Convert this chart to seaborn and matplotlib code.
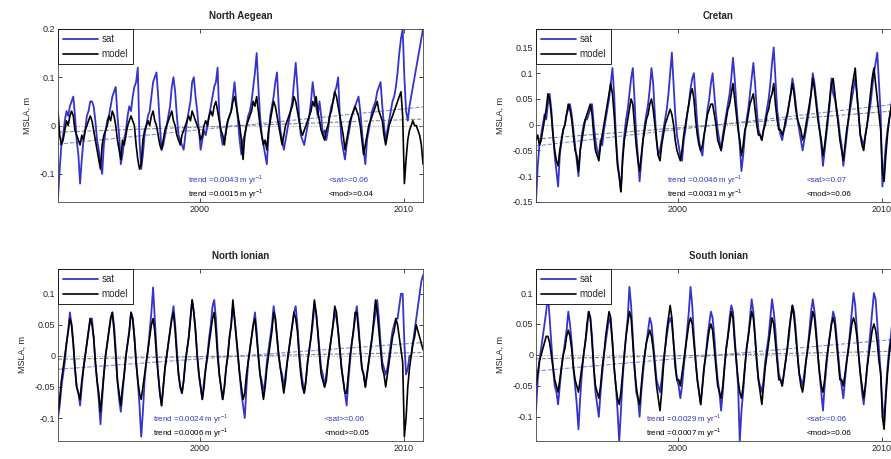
import numpy as np
import pandas as pd
import matplotlib
matplotlib.use("Agg")
import matplotlib.pyplot as plt
import seaborn as sns

# monthly sea level anomalies, cm, Jan 1993 .. Dec 2010
start_year = 1993

aegean_sat = [
    -15, -9, -4, -2, 1, 3, 2, 4, 5, 6, 2, -3,
    -6, -12, -7, -3, -1, 2, 3, 5, 5, 4, 1, -3,
    -5, -8, -10, -4, -1, 1, 2, 4, 6, 7, 8, 2,
    -2, -8, -6, -3, -1, 2, 4, 3, 6, 8, 9, 12,
    -3, -9, -6, -2, 0, 2, 3, 6, 9, 10, 11, 6,
    0, -5, -4, -2, 0, 2, 4, 8, 10, 7, 2, -2,
    -3, -4, -5, -2, 1, 3, 5, 9, 10, 6, 3, -1,
    -5, -3, -1, -2, 0, 2, 4, 6, 8, 9, 12, 2,
    -2, -4, -3, -1, 1, 2, 3, 6, 9, 5, 1, -3,
    -6, -3, -2, 0, 2, 3, 5, 8, 11, 15, 8, 2,
    -2, -4, -6, -8, -2, 2, 4, 6, 9, 11, 4, -1,
    -3, -5, -3, -1, 1, 3, 5, 9, 13, 8, 2, -2,
    -3, -4, -2, 0, 2, 5, 9, 6, 4, 2, 5, 2,
    -2, -1, -3, -1, 2, 4, 5, 7, 8, 10, 2, -3,
    -5, -7, -4, -2, 0, 2, 3, 4, 5, 6, 3, -1,
    -5, -8, -3, -1, 1, 3, 4, 5, 7, 8, 9, 4,
    0, -3, -1, 1, 3, 5, 6, 8, 11, 15, 18, 20,
    10, 3, 1, 4, 6, 8, 10, 12, 14, 16, 18, 20,
]
aegean_mod = [
    3, -2, -4, -3, -1, 1, 0, 2, 3, 2, -1, -2,
    -3, -4, -2, -3, -1, 0, 1, 2, 1, -1, -3, -5,
    -7, -9, -4, -2, -1, 0, 2, 1, 3, 2, 0, -3,
    -5, -7, -3, -4, -2, 0, 1, 2, 1, 0, -4, -7,
    -9, -8, -3, -1, 0, 1, 0, 2, 3, 1, 0, -2,
    -4, -5, -3, -1, 0, 1, 2, 3, 1, 0, -2, -3,
    -4, -2, -1, 0, 1, 2, 1, 3, 2, 1, 0, -1,
    -3, -2, 0, 1, 0, 2, 3, 2, 4, 5, 3, 1,
    -1, -2, -4, -1, 1, 2, 3, 5, 6, 4, 2, 0,
    -3, -7, -2, 0, 1, 2, 3, 5, 4, 6, 3, 0,
    -2, -4, -3, -5, -1, 1, 3, 5, 4, 2, 0, -2,
    -4, -2, 0, 1, 2, 3, 4, 6, 5, 3, 1, -1,
    -2, -1, 0, 1, 2, 3, 5, 4, 6, 3, 1, -1,
    -2, -3, -1, 0, 2, 3, 5, 7, 6, 4, 2, 0,
    -2, -5, -3, -1, 1, 2, 3, 4, 3, 2, 0, -3,
    -6, -4, -2, 0, 1, 2, 3, 4, 5, 3, 2, 1,
    -2, -4, -2, 0, 1, 2, 3, 4, 5, 6, 7, 2,
    -12, -7, -3, -1, 0, 1, 0, 0, -1, -2, -4, -8,
]

cretan_sat = [
    -15, -8, -4, -2, 0, 2, 1, 4, 6, 3, -2, -6,
    -9, -12, -6, -3, -1, 0, 2, 3, 4, 2, -1, -4,
    -7, -10, -5, -2, 0, 1, 1, 2, 3, 4, 0, -3,
    -5, -6, -3, -4, -1, 1, 3, 5, 8, 11, 6, -2,
    -7, -10, -13, -6, -2, 1, 3, 6, 9, 11, 5, -2,
    -6, -11, -7, -3, 0, 2, 4, 7, 11, 8, 2, -3,
    -6, -5, -3, -1, 1, 3, 6, 10, 14, 8, 2, -2,
    -4, -6, -7, -3, -1, 2, 4, 7, 9, 10, 5, 0,
    -3, -5, -6, -2, 0, 3, 5, 8, 10, 6, 2, -1,
    -3, -5, -2, 0, 2, 4, 6, 9, 13, 9, 4, 0,
    -4, -9, -6, -2, 1, 3, 6, 9, 12, 8, 3, -1,
    -2, -3, -1, 1, 3, 5, 8, 12, 15, 9, 3, 0,
    -2, -3, -1, 0, 2, 4, 6, 9, 7, 4, 1, -1,
    -3, -5, -3, -1, 1, 3, 6, 10, 8, 5, 2, -1,
    -4, -8, -5, -2, 1, 4, 9, 6, 5, 3, 1, -2,
    -4, -8, -5, -2, 1, 3, 5, 7, 9, 6, 2, -2,
    -3, -4, -2, 0, 2, 4, 7, 10, 12, 14, 8, 2,
    -12, -8, -4, -1, 1, 3, 6, 10, 13, 9, 4, 0,
]
cretan_mod = [
    -3, -2, -4, -3, -1, 1, 3, 6, 5, 2, -2, -5,
    -7, -8, -5, -3, -1, 0, 2, 4, 3, 1, -2, -5,
    -6, -9, -5, -3, -1, 1, 2, 3, 4, 2, -2, -5,
    -6, -7, -4, -2, 0, 2, 4, 6, 8, 6, 2, -3,
    -8, -10, -13, -7, -3, -1, 1, 3, 5, 4, 0, -4,
    -7, -9, -6, -3, -1, 1, 2, 4, 5, 3, 0, -3,
    -6, -7, -4, -2, 0, 1, 2, 3, 2, 0, -3, -5,
    -6, -7, -5, -2, 0, 2, 4, 6, 7, 5, 1, -2,
    -4, -5, -4, -2, 0, 2, 3, 4, 4, 2, 0, -3,
    -4, -5, -3, -1, 1, 3, 4, 6, 8, 5, 2, -1,
    -3, -6, -4, -1, 0, 2, 4, 5, 6, 3, 0, -2,
    -2, -3, -1, 0, 2, 3, 5, 6, 8, 4, 1, -1,
    -1, -2, -1, 1, 2, 4, 6, 8, 6, 3, 1, 0,
    -1, -3, -2, 0, 2, 4, 6, 9, 7, 4, 1, -1,
    -3, -6, -4, -1, 2, 5, 8, 9, 6, 3, 0, -3,
    -5, -7, -4, -1, 1, 4, 7, 9, 11, 6, 2, -2,
    -4, -5, -2, 0, 3, 6, 9, 11, 8, 5, 2, -1,
    -9, -11, -6, -2, 1, 3, 5, 7, 8, 5, 1, -2,
]

nionian_sat = [
    -10, -8, -5, -3, -1, 2, 4, 7, 5, 2, -2, -5,
    -6, -8, -5, -2, 0, 2, 4, 6, 6, 3, -1, -4,
    -7, -11, -7, -3, 0, 2, 4, 6, 7, 5, 1, -4,
    -7, -9, -6, -3, 0, 2, 4, 7, 6, 3, -1, -4,
    -8, -13, -9, -4, -1, 1, 4, 7, 11, 6, 1, -3,
    -6, -8, -5, -2, 0, 2, 4, 6, 8, 5, 1, -3,
    -5, -6, -4, -1, 1, 3, 6, 9, 7, 4, 0, -3,
    -5, -7, -4, -2, 0, 3, 5, 8, 9, 6, 1, -3,
    -5, -7, -5, -2, 0, 3, 5, 8, 6, 3, 0, -3,
    -6, -8, -10, -5, -1, 1, 3, 5, 7, 4, 0, -3,
    -4, -6, -4, -1, 1, 3, 5, 8, 6, 3, 0, -2,
    -3, -5, -3, -1, 1, 3, 5, 7, 8, 5, 1, -2,
    -4, -6, -4, -1, 1, 3, 5, 8, 7, 4, 1, -2,
    -3, -5, -3, -1, 1, 3, 5, 7, 6, 4, 1, -2,
    -4, -6, -8, -4, -1, 2, 4, 6, 8, 5, 1, -2,
    -3, -5, -3, -1, 1, 3, 5, 7, 9, 6, 2, -1,
    -2, -3, -2, 0, 2, 4, 5, 6, 6, 8, 10, 10,
    2, -3, -2, 0, 0, 2, 4, 6, 8, 10, 12, 13,
]
nionian_mod = [
    -9, -7, -4, -2, 0, 2, 4, 6, 5, 2, -2, -5,
    -6, -7, -4, -2, 0, 2, 4, 6, 5, 3, -1, -4,
    -6, -9, -6, -3, 0, 2, 4, 6, 7, 4, 0, -4,
    -6, -8, -5, -3, 0, 2, 4, 7, 6, 3, -1, -4,
    -6, -7, -5, -3, -1, 1, 3, 5, 6, 4, 0, -3,
    -6, -8, -5, -2, 0, 2, 4, 6, 7, 4, 0, -3,
    -5, -6, -4, -1, 1, 3, 6, 9, 7, 4, 0, -3,
    -5, -7, -5, -2, 0, 2, 4, 6, 7, 4, 0, -3,
    -5, -7, -5, -2, 0, 3, 5, 9, 6, 3, 0, -3,
    -5, -7, -6, -3, -1, 1, 3, 5, 6, 3, 0, -3,
    -5, -7, -5, -2, 0, 2, 4, 7, 6, 3, 0, -2,
    -4, -6, -4, -1, 1, 3, 5, 7, 6, 4, 0, -3,
    -5, -6, -4, -1, 1, 3, 6, 9, 7, 4, 0, -3,
    -4, -5, -4, -1, 1, 3, 5, 8, 7, 4, 1, -2,
    -4, -6, -6, -3, 0, 2, 4, 7, 7, 4, 1, -2,
    -3, -5, -3, -1, 1, 3, 6, 9, 7, 4, 1, -2,
    -3, -5, -3, -1, 1, 3, 4, 6, 5, 3, 1, -1,
    -13, -10, -5, -2, 0, 2, 3, 5, 4, 3, 2, 1,
]

sionian_sat = [
    -9, -4, -1, 1, 3, 5, 7, 10, 6, 2, -2, -5,
    -6, -8, -5, -2, 0, 2, 4, 7, 5, 2, -2, -5,
    -8, -12, -7, -3, 0, 2, 4, 7, 6, 3, -2, -6,
    -8, -10, -6, -3, 0, 2, 4, 6, 5, 2, -2, -5,
    -9, -14, -9, -4, 0, 3, 6, 11, 8, 3, -2, -6,
    -7, -10, -6, -3, 0, 2, 4, 6, 5, 2, -1, -4,
    -5, -6, -4, -1, 1, 3, 5, 6, 5, 2, -1, -4,
    -5, -7, -5, -2, 1, 4, 7, 11, 8, 3, -1, -4,
    -6, -8, -5, -2, 0, 3, 5, 7, 6, 3, -1, -4,
    -6, -9, -6, -2, 1, 3, 6, 8, 7, 3, -1, -5,
    -14, -9, -6, -2, 1, 3, 6, 9, 7, 3, -1, -4,
    -5, -6, -4, -1, 1, 3, 6, 9, 7, 4, 0, -3,
    -4, -5, -3, -1, 1, 3, 6, 8, 7, 4, 0, -3,
    -4, -5, -3, -1, 1, 4, 7, 9, 7, 4, 0, -3,
    -6, -9, -5, -2, 1, 3, 5, 7, 6, 3, 0, -3,
    -5, -7, -4, -1, 1, 4, 7, 10, 8, 4, 0, -3,
    -6, -8, -5, -2, 1, 4, 7, 10, 9, 5, 1, -3,
    -8, -11, -6, -2, 1, 3, 6, 9, 8, 4, 1, -2,
]
sionian_mod = [
    -5, -3, -1, 0, 1, 2, 3, 3, 2, 0, -2, -4,
    -5, -6, -4, -2, 0, 1, 3, 4, 3, 1, -2, -4,
    -5, -6, -4, -2, 0, 2, 5, 7, 6, 2, -2, -5,
    -6, -7, -5, -2, 0, 3, 5, 7, 6, 2, -2, -5,
    -7, -8, -6, -3, 0, 3, 5, 7, 6, 2, -2, -5,
    -7, -8, -5, -2, 0, 2, 3, 4, 3, 1, -2, -5,
    -7, -9, -6, -2, 1, 4, 6, 8, 6, 2, -2, -4,
    -4, -5, -3, -1, 1, 3, 5, 6, 5, 2, -1, -4,
    -6, -8, -5, -2, 0, 2, 4, 5, 4, 1, -2, -5,
    -6, -7, -5, -2, 1, 3, 5, 7, 6, 2, -1, -4,
    -6, -7, -5, -2, 1, 3, 5, 7, 6, 3, -1, -4,
    -6, -8, -5, -2, 0, 2, 4, 6, 5, 2, -1, -4,
    -4, -5, -3, -1, 1, 4, 6, 8, 6, 3, 0, -3,
    -5, -6, -4, -1, 1, 3, 5, 7, 6, 3, 0, -3,
    -5, -6, -4, -1, 1, 3, 5, 6, 5, 2, -1, -4,
    -4, -5, -3, -1, 1, 3, 5, 6, 5, 3, 0, -3,
    -5, -7, -5, -2, 0, 2, 4, 5, 4, 2, -1, -3,
    -10, -12, -7, -3, 0, 2, 4, 6, 5, 3, 0, -2,
]

titles = ["North Aegean", "Cretan", "North Ionian", "South Ionian"]
sat_series = [aegean_sat, cretan_sat, nionian_sat, sionian_sat]
mod_series = [aegean_mod, cretan_mod, nionian_mod, sionian_mod]
sat_trends = [0.0043, 0.0046, 0.0024, 0.0029]
mod_trends = [0.0015, 0.0031, 0.0006, 0.0007]
sat_std = [0.06, 0.07, 0.06, 0.06]
mod_std = [0.04, 0.06, 0.05, 0.06]
y_limits = [(-0.158, 0.2), (-0.15, 0.186), (-0.137, 0.14), (-0.139, 0.139)]
y_ticks = [[-0.1, 0, 0.1, 0.2],
           [-0.15, -0.1, -0.05, 0, 0.05, 0.1, 0.15],
           [-0.1, -0.05, 0, 0.05, 0.1],
           [-0.1, -0.05, 0, 0.05, 0.1]]
# text anchor (axes fraction) for the trend and <std> labels
trend_x = [0.355, 0.36, 0.26, 0.30]
std_x = [0.74, 0.74, 0.73, 0.74]

sat_color = "#3434cc"

sns.set_style("ticks")
plt.rcParams["font.family"] = ["Liberation Sans", "DejaVu Sans"]
plt.rcParams["mathtext.fontset"] = "custom"
plt.rcParams["mathtext.rm"] = "Liberation Sans"

fig = plt.figure(figsize=(8.91, 4.59), dpi=100)
positions = [
    [0.0651, 0.560, 0.4097, 0.377],
    [0.6016, 0.560, 0.4097, 0.377],
    [0.0651, 0.0392, 0.4097, 0.375],
    [0.6016, 0.0392, 0.4097, 0.375],
]

n = len(aegean_sat)
time = start_year + (np.arange(n) + 0.5) / 12.0
t_mid = time.mean()

for i in range(4):
    ax = fig.add_axes(positions[i])
    df = pd.DataFrame({
        "time": time,
        "sat": np.array(sat_series[i]) / 100.0,
        "model": np.array(mod_series[i]) / 100.0,
    })

    # zero line and linear trends
    ax.axhline(0, color="#999999", lw=0.7, ls=":")
    ax.plot(time, sat_trends[i] * (time - t_mid), color="#8a8ad8", lw=0.8, ls="--")
    ax.plot(time, mod_trends[i] * (time - t_mid), color="#888888", lw=0.8, ls="--")

    sns.lineplot(data=df, x="time", y="sat", ax=ax, color=sat_color, lw=1.3,
                 label="sat", estimator=None)
    sns.lineplot(data=df, x="time", y="model", ax=ax, color="black", lw=1.2,
                 label="model", estimator=None)

    ax.set_xlim(time[0], time[-1])
    ax.set_ylim(*y_limits[i])
    ax.set_xticks([2000, 2010])
    ax.set_yticks(y_ticks[i])
    ax.set_yticklabels(["%g" % v for v in y_ticks[i]])
    ax.tick_params(direction="in", top=True, right=True, labelsize=6.5,
                   length=3, width=0.6, pad=2)
    for sp in ax.spines.values():
        sp.set_linewidth(0.6)
        sp.set_color("#444444")
    ax.set_xlabel("")
    ax.set_ylabel("MSLA, m", fontsize=6.5, labelpad=6)
    ax.set_title(titles[i], fontsize=7, fontweight="bold", pad=7)

    leg = ax.legend(loc="upper left", fontsize=7, frameon=True, fancybox=False,
                    handlelength=3.6, borderpad=0.55, labelspacing=0.5,
                    handletextpad=0.3, borderaxespad=0.0)
    leg.get_frame().set_edgecolor("black")
    leg.get_frame().set_linewidth(0.6)
    leg.get_frame().set_alpha(1.0)

    ax.text(trend_x[i], 0.125, "trend =%.4f m yr$^{-1}$" % sat_trends[i],
            transform=ax.transAxes, color=sat_color, fontsize=5.8, va="center")
    ax.text(trend_x[i], 0.045, "trend =%.4f m yr$^{-1}$" % mod_trends[i],
            transform=ax.transAxes, color="black", fontsize=5.8, va="center")
    ax.text(std_x[i], 0.125, "<sat>=%.2f" % sat_std[i],
            transform=ax.transAxes, color=sat_color, fontsize=5.8, va="center")
    ax.text(std_x[i], 0.045, "<mod>=%.2f" % mod_std[i],
            transform=ax.transAxes, color="black", fontsize=5.8, va="center")

fig.savefig("out.png", dpi=100)
